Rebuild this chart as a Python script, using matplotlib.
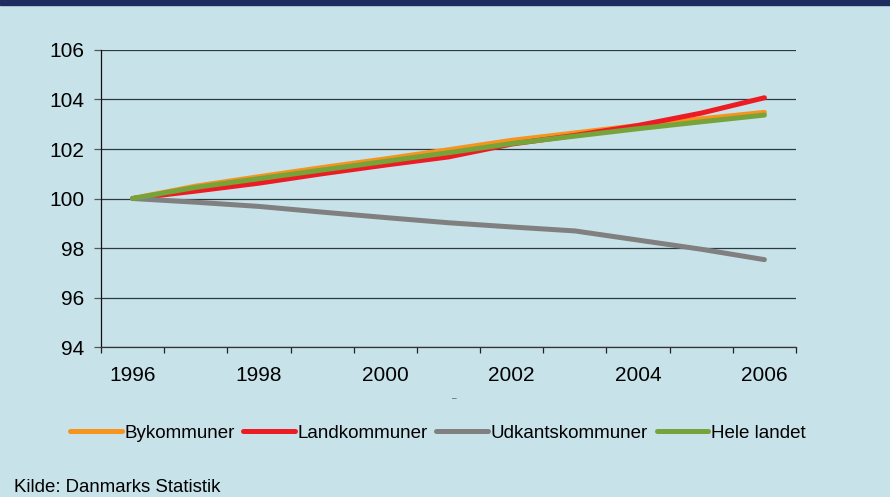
import matplotlib.pyplot as plt

plt.rcParams["font.family"] = ["Liberation Sans", "DejaVu Sans"]

years = [1996, 1997, 1998, 1999, 2000, 2001, 2002, 2003, 2004, 2005, 2006]
bykommuner = [100, 100.5, 100.88, 101.25, 101.6, 101.97, 102.35, 102.65, 102.95, 103.22, 103.48]
landkommuner = [100, 100.3, 100.62, 101.0, 101.35, 101.68, 102.2, 102.55, 102.95, 103.45, 104.07]
udkantskommuner = [100, 99.85, 99.68, 99.45, 99.23, 99.02, 98.85, 98.69, 98.32, 97.95, 97.53]
hele_landet = [100, 100.45, 100.8, 101.15, 101.5, 101.85, 102.22, 102.52, 102.82, 103.1, 103.37]

label_years = [1996, 1998, 2000, 2002, 2004, 2006]
y_ticks = [94, 96, 98, 100, 102, 104, 106]

bg = "#c8e2e9"

fig = plt.figure(figsize=(8.9, 4.97), dpi=100, facecolor=bg)
ax = fig.add_axes([0.1135, 0.3018, 0.7809, 0.5976])
ax.set_facecolor(bg)

# top band (cropped title bar)
fig.patches.append(plt.Rectangle((0, 0.99), 1, 0.01, transform=fig.transFigure,
                                 color="#1f2c5f", zorder=5))

ax.plot(years, bykommuner, color="#f7941e", lw=3.6, solid_capstyle="round",
        label="Bykommuner")
ax.plot(years, landkommuner, color="#ed1c24", lw=3.6, solid_capstyle="round",
        label="Landkommuner")
ax.plot(years, udkantskommuner, color="#808080", lw=3.6, solid_capstyle="round",
        label="Udkantskommuner")
ax.plot(years, hele_landet, color="#76a33a", lw=3.6, solid_capstyle="round",
        label="Hele landet")

ax.set_xlim(1995.5, 2006.5)
ax.set_ylim(94, 106)
ax.set_yticks(y_ticks)
ax.set_xticks(label_years)
ax.set_xticks([y - 0.5 for y in years] + [2006.5], minor=True)
ax.grid(axis="y", color="#2b3a3e", lw=0.9)
ax.set_axisbelow(True)

ax.tick_params(axis="y", length=5, width=0.9, color="#555555", pad=7,
               labelsize=15)
ax.tick_params(axis="x", which="major", length=0, pad=14, labelsize=15)
ax.tick_params(axis="x", which="minor", length=4.3, width=0.9, color="#222222")

for s in ["top", "right"]:
    ax.spines[s].set_visible(False)
ax.spines["left"].set_color("#111111")
ax.spines["bottom"].set_color("#333333")
ax.spines["left"].set_linewidth(0.9)
ax.spines["bottom"].set_linewidth(0.9)

fig.text(0.511, 0.197, "–", fontsize=6, ha="center", va="center", color="#222222")

fig.legend(loc="center", bbox_to_anchor=(0.492, 0.128), ncol=4, frameon=False,
           fontsize=13.5, handlelength=2.75, handletextpad=0.15,
           columnspacing=0.45)

fig.text(0.016, 0.002, "Kilde: Danmarks Statistik", fontsize=13.4,
         ha="left", va="bottom")

plt.savefig("out.png", dpi=100, facecolor=bg)
